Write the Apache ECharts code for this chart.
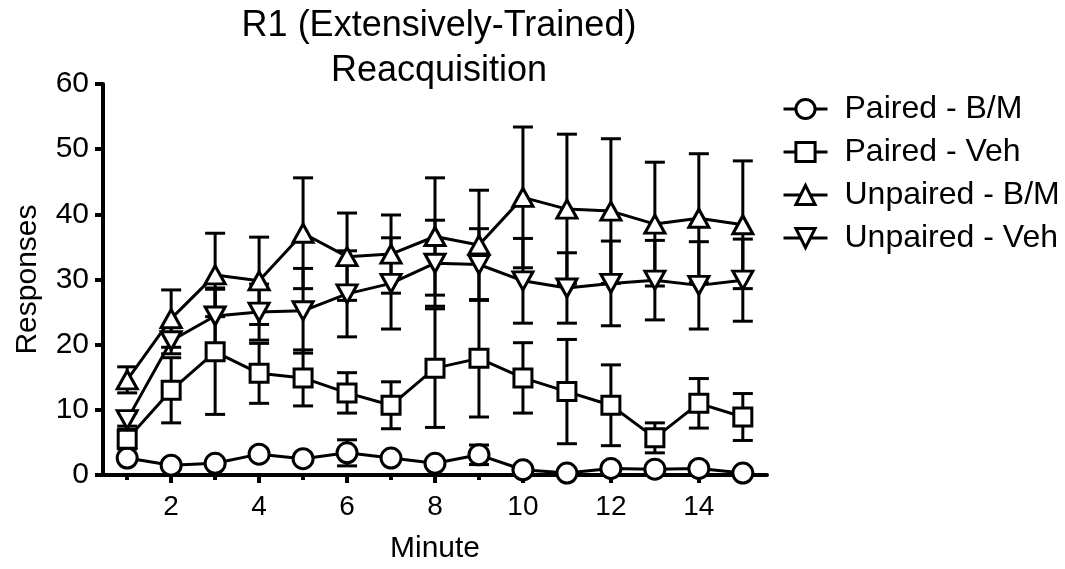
<!DOCTYPE html>
<html>
<head>
<meta charset="utf-8">
<script src="https://cdn.jsdelivr.net/npm/echarts@6/dist/echarts.min.js"></script>
<style>html,body{margin:0;padding:0;background:#fff;}#c{width:1065px;height:569px;}</style>
</head>
<body>
<div id="c"></div>
<script>
const minutes = [1,2,3,4,5,6,7,8,9,10,11,12,13,14,15];
const xMajorTicks = [2,4,6,8,10,12,14];
const xMinorTicks = [1,3,5,7,9,11,13,15];
const seriesNames = ['Paired - B/M','Paired - Veh','Unpaired - B/M','Unpaired - Veh'];

const pairedBM       = [2.6,1.5,1.8,3.2,2.5,3.4,2.6,1.8,3.1,0.8,0.3,1.0,0.9,1.0,0.3];
const pairedBMErr    = [0.6,0.4,0.5,0.6,0.5,2.0,0.5,0.5,1.5,0.4,0.3,0.4,0.4,0.4,0.3];
const pairedVeh      = [5.5,13.0,18.9,15.6,14.9,12.6,10.7,16.4,17.9,14.9,12.8,10.7,5.7,11.0,8.9];
const pairedVehErr   = [1.5,5.0,9.6,4.6,4.3,3.1,3.6,9.1,9.0,5.4,8.0,6.2,2.3,3.8,3.6];
const unpairedBM     = [14.6,24.0,30.7,29.8,37.1,33.5,33.9,36.6,35.3,42.6,40.8,40.5,38.5,39.4,38.4];
const unpairedBMErr  = [2.0,4.4,6.4,6.7,8.5,6.7,6.0,9.0,8.4,10.8,11.5,11.1,9.5,9.9,9.8];
const unpairedVeh    = [8.5,20.6,24.4,25.0,25.2,27.8,29.4,32.5,32.3,29.8,28.7,29.4,29.9,29.1,29.9];
const unpairedVehErr = [1.0,2.0,4.3,4.3,6.5,6.6,7.0,6.6,5.5,6.5,5.4,6.5,6.1,6.7,6.3];

const FONT = '"Liberation Sans", Arial, sans-serif';
const downTri = 'path://M0,0L20,0L10,17.32Z';
const symbols = ['circle','rect','triangle',downTri];
const sizes = [20,18,[20,18],[20,18]];
const means = [pairedBM,pairedVeh,unpairedBM,unpairedVeh];
const errs = [pairedBMErr,pairedVehErr,unpairedBMErr,unpairedVehErr];

function errRender(params, api) {
  const x = api.value(0), lo = api.value(1), hi = api.value(2);
  const a = api.coord([x, lo]), b = api.coord([x, hi]);
  const w = 10;
  const st = {stroke:'#000', lineWidth:3};
  return {type:'group', children:[
    {type:'line', shape:{x1:a[0],y1:a[1],x2:b[0],y2:b[1]}, style:st},
    {type:'line', shape:{x1:a[0]-w,y1:a[1],x2:a[0]+w,y2:a[1]}, style:st},
    {type:'line', shape:{x1:b[0]-w,y1:b[1],x2:b[0]+w,y2:b[1]}, style:st}
  ]};
}

const series = [];
means.forEach((m, k) => {
  series.push({
    type:'custom', z:2, renderItem: errRender, xAxisIndex:0,
    encode:{x:0, y:[1,2]},
    data: minutes.map((t,i)=>[t, Math.max(0, m[i]-errs[k][i]), m[i]+errs[k][i]])
  });
});
means.forEach((m, k) => {
  series.push({
    name: seriesNames[k], type:'line', z:3, xAxisIndex:0,
    data: minutes.map((t,i)=>[t, m[i]]),
    symbol: symbols[k], symbolSize: sizes[k], showAllSymbol:true,
    lineStyle:{color:'#000', width:3},
    itemStyle:{color:'#fff', borderColor:'#000', borderWidth:3},
    emphasis:{disabled:true}, animation:false
  });
});

const chart = echarts.init(document.getElementById('c'), null, {renderer:'canvas'});
chart.setOption({
  animation:false,
  backgroundColor:'#fff',
  title:{
    text:'R1 (Extensively-Trained)\nReacquisition',
    left:434, top:-1, textAlign:'center',
    textStyle:{fontFamily:FONT, fontSize:36, fontWeight:'normal', color:'#000', lineHeight:45}
  },
  legend:{
    data: seriesNames, orient:'vertical', left:777, top:88,
    itemWidth:44, itemHeight:24, itemGap:11,
    lineStyle:{width:3, color:'#000'},
    itemStyle:{borderWidth:3, borderColor:'#000', color:'#fff'},
    textStyle:{fontFamily:FONT, fontSize:32, color:'#000', padding:[0,0,0,12], lineHeight:24},
    selectedMode:false
  },
  grid:{left:103, right:298, top:84, bottom:94, containLabel:false},
  xAxis:[{
    type:'value', min:0.45, max:15.55,
    name:'Minute', nameLocation:'middle', nameGap:59,
    nameTextStyle:{fontFamily:FONT, fontSize:30, color:'#000'},
    axisLine:{lineStyle:{color:'#000', width:4}},
    axisTick:{show:true, length:8, lineStyle:{color:'#000', width:4}, customValues:xMajorTicks},
    axisLabel:{fontFamily:FONT, fontSize:28, color:'#000', margin:18, customValues:xMajorTicks},
    splitLine:{show:false}
  },{
    type:'value', min:0.45, max:15.55, position:'bottom',
    axisLine:{show:false},
    axisTick:{show:true, length:5, lineStyle:{color:'#000', width:4}, customValues:xMinorTicks},
    axisLabel:{show:false},
    splitLine:{show:false}
  }],
  yAxis:{
    type:'value', min:0, max:60, interval:10,
    name:'Responses', nameLocation:'middle', nameGap:60,
    nameTextStyle:{fontFamily:FONT, fontSize:30, color:'#000'},
    axisLine:{show:true, lineStyle:{color:'#000', width:4}},
    axisTick:{show:true, length:8, lineStyle:{color:'#000', width:4}},
    axisLabel:{fontFamily:FONT, fontSize:30, color:'#000', margin:14},
    splitLine:{show:false}
  },
  series: series
});
</script>
</body>
</html>
